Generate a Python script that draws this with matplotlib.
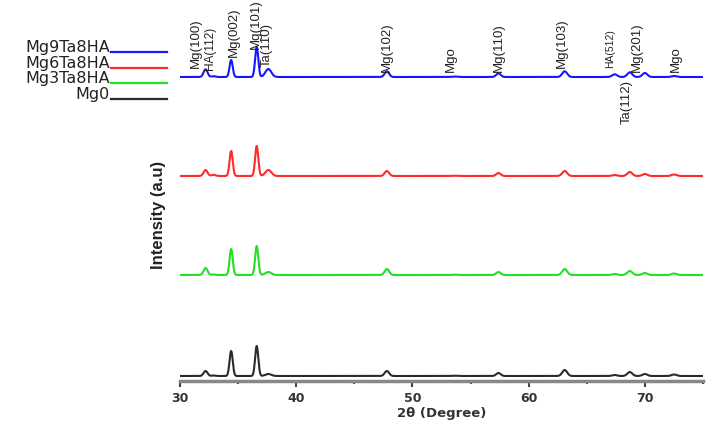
import numpy as np
import matplotlib
matplotlib.use('Agg')
import matplotlib.pyplot as plt
from matplotlib.lines import Line2D

# peak positions (2theta, degree) shared by all samples
peak_pos = [32.2, 32.9, 34.4, 36.6, 37.6, 47.8, 53.6, 57.4, 63.1, 67.4, 68.7, 70.0, 72.5]
peak_fwhm = [0.4, 0.4, 0.32, 0.32, 0.6, 0.45, 0.5, 0.45, 0.5, 0.5, 0.5, 0.5, 0.5]

# peak heights (arb. units) for each sample
h_mg0 = [5, 0.5, 25, 30, 2, 5, 0.3, 3, 6, 1, 4, 2, 1.5]
h_mg3 = [7, 0.5, 26, 29, 3, 6, 0.3, 3, 6, 1, 4, 2, 1.5]
h_mg6 = [6, 1.2, 25, 30, 6, 5, 0.3, 3, 5, 1, 4, 2, 1.5]
h_mg9 = [7.7, 0.8, 17, 30, 8, 5.7, 0.5, 3.7, 5.7, 2.7, 4.7, 4, 1]

names = ['Mg9Ta8HA', 'Mg6Ta8HA', 'Mg3Ta8HA', 'Mg0']
heights = [h_mg9, h_mg6, h_mg3, h_mg0]
offsets = [304, 205, 106, 5]
colors = ['#1515ff', '#ff2a2a', '#22e022', '#2a2a2a']

# peak labels: text, x position, y (bottom of text, or top for the one below the trace)
lab_text = ['Mg(100)', 'HA(112)', 'Mg(002)', 'Mg(101)', 'Ta(110)', 'Mg(102)', 'Mgo',
            'Mg(110)', 'Mg(103)', 'HA(512)', 'Mg(201)', 'Mgo']
lab_x = [31.4, 32.6, 34.6, 36.5, 37.45, 47.8, 53.3, 57.4, 62.85, 67.0, 69.3, 72.7]
lab_y = [313, 311, 324, 332, 314, 309, 309, 309, 313, 313, 309, 309]
lab_size = [9.5, 8.5, 9.5, 9.5, 9.5, 9.5, 9.5, 9.5, 9.5, 7.5, 9.5, 9.5]
below_text = 'Ta(112)'
below_x = 68.4
below_y = 301

x = np.linspace(30, 75, 3000)

fig = plt.figure(figsize=(7.08, 4.21), dpi=100)
ax = fig.add_axes([180 / 708, 40 / 421, 523 / 708, 381 / 421])

for name, h, off, c in zip(names, heights, offsets, colors):
    y = np.full_like(x, float(off))
    for p, w, a in zip(peak_pos, peak_fwhm, h):
        s = w / 2.355
        y += a * np.exp(-0.5 * ((x - p) / s) ** 2)
    ax.plot(x, y, color=c, lw=1.5)

lab_font = ['Liberation Sans Narrow', 'Liberation Sans', 'DejaVu Sans']
for t, lx, ly, fs in zip(lab_text, lab_x, lab_y, lab_size):
    ax.text(lx, ly, t, rotation=90, ha='center', va='bottom', fontsize=fs,
            family=lab_font, color='#222222')
ax.text(below_x, below_y, below_text, rotation=90, ha='center', va='top', fontsize=9.5,
        family=lab_font, color='#222222')

ax.set_xlim(30, 75)
ax.set_ylim(0, 381)
for sp in ['left', 'top', 'right']:
    ax.spines[sp].set_visible(False)
ax.spines['bottom'].set_linewidth(2.5)
ax.spines['bottom'].set_color('#888888')
ax.set_yticks([])
ax.set_xticks([30, 40, 50, 60, 70])
ax.set_xticks([35, 45, 55, 65, 75], minor=True)
ax.tick_params(axis='x', which='major', direction='out', length=4, width=1.5,
               color='#444444', labelsize=9, labelcolor='#333333', pad=4)
ax.tick_params(axis='x', which='minor', direction='out', length=2, width=1.5, color='#444444')
for lbl in ax.get_xticklabels():
    lbl.set_fontweight('bold')
ax.set_xlabel('2θ (Degree)', fontsize=9.5, fontweight='bold', color='#333333', labelpad=1)
ax.set_ylabel('Intensity (a.u)', fontsize=12, fontweight='bold', family=lab_font,
              color='#222222')
ax.yaxis.set_label_coords(-14 / 523, (381 - 215) / 381)

# legend drawn top-left, text on the left and line on the right
leg_y = [52, 68, 83, 99]
for name, c, ly in zip(names, colors, leg_y):
    fy = 1 - ly / 421
    fig.text(110 / 708, fy, name, ha='right', va='baseline', fontsize=11.5, color='#222222')
    fig.add_artist(Line2D([111 / 708, 167 / 708], [fy, fy], color=c, lw=1.6,
                          transform=fig.transFigure))

fig.savefig('out.png', dpi=100)
